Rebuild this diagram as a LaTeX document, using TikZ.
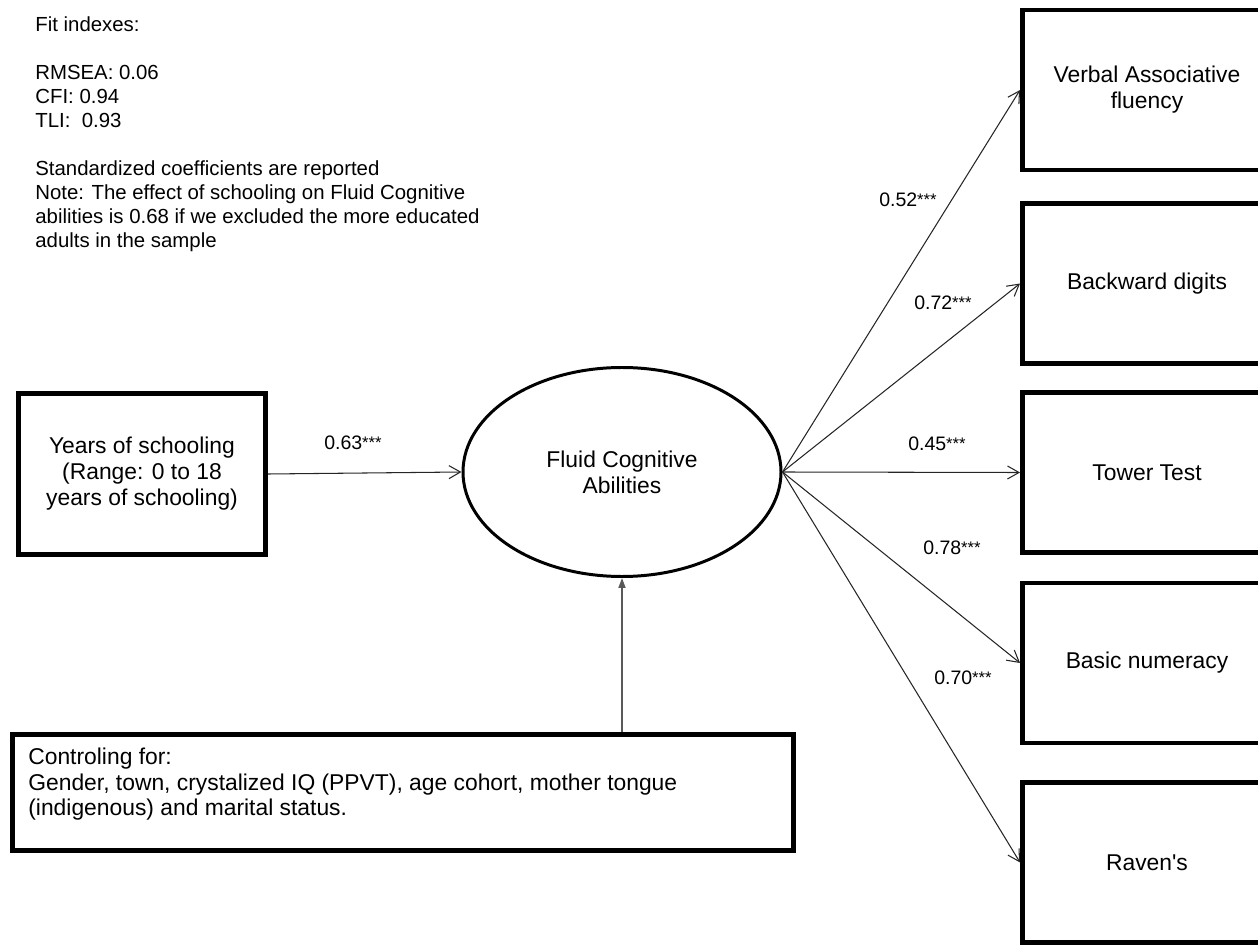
\documentclass[tikz,border=0pt]{standalone}
\usepackage{fontspec}
\setmainfont{Liberation Sans}
\usetikzlibrary{arrows.meta,shapes.geometric}

\newcommand{\notefont}{\fontsize{11.6}{13.66}\selectfont}
\newcommand{\boxfont}{\fontsize{13}{14.8}\selectfont}
\newcommand{\ctrlfont}{\fontsize{13}{14.5}\selectfont}
\newcommand{\coeffont}{\fontsize{11.1}{13}\selectfont}
\newcommand{\sigstars}{{\fontsize{9.5}{9.5}\selectfont\raisebox{0.8pt}{***}}}

\tikzset{
    obsbox/.style={draw, line width=2.8pt, minimum width=4.98cm, minimum height=3.2cm, align=center, font=\boxfont},
    coef/.style={font=\coeffont, inner sep=0pt},
    loading/.style={draw=black!85, line width=0.6pt, -{Straight Barb[length=2.3mm,width=2.6mm]}},
    control/.style={draw=black!65, line width=1pt, -{Triangle[length=2mm,width=1.4mm]}}
}

\begin{document}
\begin{tikzpicture}
    \useasboundingbox (0,0) rectangle (25.16,-18.94);
    % fit indexes and note
    \node [anchor=north west, inner sep=0pt, align=left, font=\notefont] (notes) at (0.7,-0.32) {Fit indexes:\\[\baselineskip]RMSEA: 0.06\\CFI: 0.94\\TLI:~ 0.93\\[\baselineskip]Standardized coefficients are reported\\Note: The effect of schooling on Fluid Cognitive\\abilities is 0.68 if we excluded the more educated\\adults in the sample};

    % latent factor and predictor
    \node [ellipse, draw, line width=1.7pt, minimum width=6.36cm, minimum height=4.18cm, align=center, font=\boxfont] (fca) at (12.44,-9.44) {Fluid Cognitive\\Abilities};
    \node [obsbox, minimum width=4.94cm, minimum height=3.22cm] (yrs) at (2.84,-9.48) {Years of schooling\\(Range: 0 to 18\\years of schooling)};

    % indicators
    \node [obsbox] (verbal) at (22.94,-1.8) {Verbal Associative\\fluency};
    \node [obsbox] (digits) at (22.94,-5.67) {Backward digits};
    \node [obsbox] (tower) at (22.94,-9.45) {Tower Test};
    \node [obsbox] (numeracy) at (22.94,-13.26) {Basic numeracy};
    \node [obsbox] (raven) at (22.94,-17.25) {Raven\textquotesingle s};

    % controls
    \node [draw, line width=2.8pt, minimum width=15.62cm, minimum height=2.32cm] (ctrl) at (8.06,-15.85) {};
    \node [anchor=north west, inner sep=0pt, align=left, font=\ctrlfont] (ctrltxt) at (0.56,-14.96) {Controling for:\\Gender, town, crystalized IQ (PPVT), age cohort, mother tongue\\(indigenous) and marital status.};

    % paths
    \draw [loading] (yrs.east) -- (fca.west);
    \foreach \ind in {verbal,digits,tower,numeracy,raven}
        \draw [loading] (fca.east) -- (\ind.west);
    \draw [control] (fca.south |- ctrl.north) -- (fca.south);

    % coefficients
    \node [coef] (c63) at (7.06,-8.86) {0.63\sigstars};
    \node [coef] (c52) at (18.16,-4.0) {0.52\sigstars};
    \node [coef] (c72) at (18.86,-6.06) {0.72\sigstars};
    \node [coef] (c45) at (18.74,-8.88) {0.45\sigstars};
    \node [coef] (c78) at (19.04,-10.96) {0.78\sigstars};
    \node [coef] (c70) at (19.26,-13.56) {0.70\sigstars};
\end{tikzpicture}
\end{document}
